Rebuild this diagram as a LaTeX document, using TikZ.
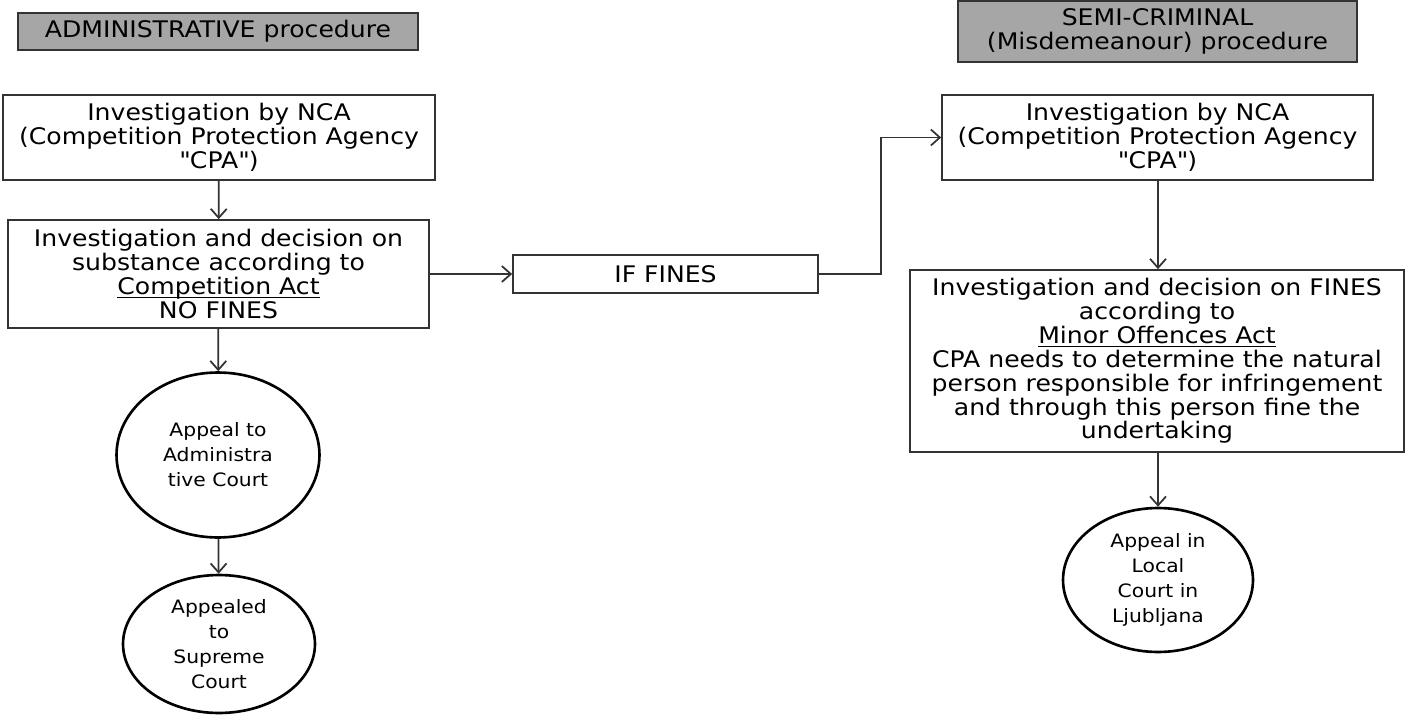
\documentclass[tikz,border=0pt]{standalone}
\usepackage{fontspec}
\setmainfont{DejaVu Sans}[FakeStretch=1.1]
\usepackage{tikz}
\usetikzlibrary{shapes.geometric, arrows.meta, positioning, calc}
\newcommand{\actline}[1]{\setbox0\hbox{#1}\rlap{\rule[-2.2pt]{\wd0}{0.6pt}}\box0}

\begin{document}
\begin{tikzpicture}[x=0.02cm, y=-0.02cm,
    title/.style={rectangle, draw=black!80, line width=1pt, fill=black!35, align=center, inner sep=0pt, font=\fontsize{13}{13.6}\selectfont},
    box/.style={rectangle, draw=black!80, line width=1pt, fill=white, align=center, inner sep=0pt, font=\fontsize{13}{13.6}\selectfont},
    court/.style={ellipse, draw=black, line width=1.5pt, fill=white, align=center, inner sep=0pt, font=\fontsize{10.5}{14.2}\selectfont},
    arrow/.style={-{Straight Barb[length=1.8mm, width=3.2mm]}, line width=1pt, draw=black!80}
]
\useasboundingbox (0,0) rectangle (1412,716);

% Headings
\node[title, minimum width=8cm, minimum height=0.74cm] (admin) at (218,31.5) {ADMINISTRATIVE procedure};
\node[title, minimum width=7.98cm, minimum height=1.22cm] (semi) at (1157.5,31.5) {SEMI-CRIMINAL\\(Misdemeanour) procedure};

% Administrative side
\node[box, minimum width=8.64cm, minimum height=1.7cm] (invadm) at (219,137.5) {Investigation by NCA\\(Competition Protection Agency\\\textquotedbl CPA\textquotedbl)};
\node[box, minimum width=8.42cm, minimum height=2.16cm] (decadm) at (218.5,274) {Investigation and decision on\\substance according to\\\actline{Competition Act}\\NO FINES};
\node[court, minimum width=4.06cm, minimum height=3.3cm] (admcourt) at (218,455) {Appeal to\\Administra\\tive Court};
\node[court, minimum width=3.84cm, minimum height=2.76cm] (supreme) at (219,644) {Appealed\\to\\Supreme\\Court};

% Switch
\node[box, minimum width=6.1cm, minimum height=0.76cm] (fines) at (665.5,274) {IF FINES};

% Misdemeanour side
\node[box, minimum width=8.62cm, minimum height=1.7cm] (invmis) at (1157.5,137.5) {Investigation by NCA\\(Competition Protection Agency\\\textquotedbl CPA\textquotedbl)};
\node[box, minimum width=9.88cm, minimum height=3.64cm] (decmis) at (1157,361) {Investigation and decision on FINES\\according to\\\actline{Minor Offences Act}\\CPA needs to determine the natural\\person responsible for infringement\\and through this person fine the\\undertaking};
\node[court, minimum width=3.8cm, minimum height=2.88cm] (local) at (1158,580) {Appeal in\\Local\\Court in\\Ljubljana};

% Flows
\draw[arrow] (invadm) -- (decadm);
\draw[arrow] (decadm) -- (admcourt);
\draw[arrow] (admcourt) -- (supreme);
\draw[arrow] (decadm) -- (fines);
\draw[arrow] (fines.east) -- ++(62,0) |- (invmis.west);
\draw[arrow] (invmis.south -| local) -- (decmis.north -| local);
\draw[arrow] (decmis.south -| local) -- (local);

\end{tikzpicture}
\end{document}
